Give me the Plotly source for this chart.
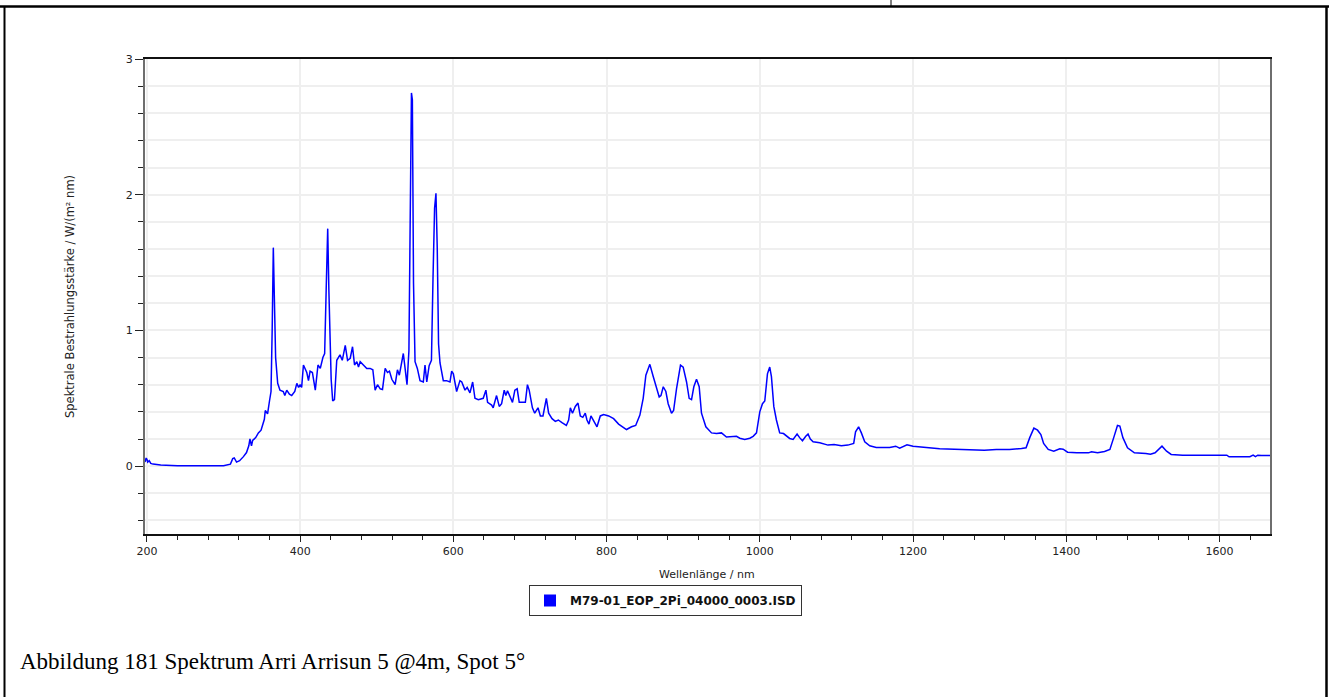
import plotly.graph_objects as go

# spectrum (wavelength in nm, irradiance in W/(m² nm))
wavelength_nm = [
    197.5, 199, 200, 201, 203, 205, 208, 212, 218, 225, 232, 240, 300, 306, 309, 312, 314, 317, 321, 326,
    330, 333, 334.5, 336.5, 338, 342, 345.5, 349, 351, 353.3, 354.5, 357.5, 360, 362, 363.5, 365, 366.5, 368,
    370.7, 373.7, 378, 380, 382.5, 386, 389, 393, 395.7, 398, 400, 402, 404.3, 406, 408.7, 410.9, 413, 416,
    419.8, 423.3, 426.3, 429.7, 432, 434, 436, 437.5, 439, 440.5, 442.5, 444.8, 447.8, 452, 455, 458.9, 461.9,
    465.4, 468.4, 471, 474, 476.2, 478.4, 482.7, 487, 491.4, 494.9, 497.9, 501, 504.5, 507.5, 511, 514, 516.6,
    519.7, 524, 527, 529.5, 532.5, 534.7, 537, 539.5, 542, 543.5, 545.3, 546.5, 548, 550, 553, 556.5, 560.8,
    563, 565.3, 568.4, 571.4, 573.5, 575.5, 577.3, 579, 580.7, 582.6, 586.9, 591, 595.6, 597.8, 600, 604.3,
    608.6, 611, 615.2, 618, 621.7, 625.2, 628.2, 632.6, 639, 642.5, 644.7, 650, 652, 656.4, 659.9, 663, 666.4,
    668.5, 670.7, 673.8, 677.2, 680.3, 683.3, 686, 690, 694, 696.7, 699, 703.2, 706.2, 710.5, 713.6, 717,
    718.8, 721.4, 724.4, 728.8, 733.1, 737, 741.8, 747.5, 750.5, 752.7, 755.5, 759.2, 762.7, 765.7, 769,
    772.2, 774.4, 777, 779.6, 783.1, 787.5, 791.8, 796.2, 802.7, 809.2, 815.7, 822.3, 826, 832.6, 838, 843.5,
    847.8, 851.3, 856.5, 860.9, 864.5, 868.7, 871, 874, 877.4, 880.4, 884.8, 887.5, 891.3, 896.5, 900, 904.4,
    907.8, 910.9, 913.9, 917.4, 920.9, 923.9, 929.6, 937, 943.5, 950, 956.5, 963, 969.6, 973.9, 980.4, 987,
    991.3, 995.7, 1000, 1003.5, 1006.5, 1010, 1013, 1015.2, 1018.3, 1021.7, 1026, 1031, 1039, 1043.5, 1048.7,
    1052, 1055.7, 1060, 1063, 1066, 1069.6, 1078.3, 1089, 1097, 1106.5, 1115, 1122.6, 1125, 1129, 1132.6,
    1137, 1143.5, 1152, 1169.6, 1177.4, 1182.6, 1192.2, 1200, 1209, 1217.4, 1234.8, 1265, 1269, 1287, 1293,
    1308.7, 1326, 1341.6, 1347.6, 1352.4, 1357.8, 1362.6, 1366.9, 1370.5, 1376.5, 1383.7, 1391.6, 1396,
    1401.8, 1413.9, 1429, 1433, 1441, 1450, 1457, 1462, 1466.9, 1470, 1474, 1480, 1489, 1504, 1510, 1516,
    1525, 1531, 1537, 1552, 1609.6, 1612.6, 1639.7, 1644, 1647, 1650, 1655, 1666,
]
irradiance = [
    0.03, 0.06, 0.05, 0.03, 0.04, 0.02, 0.015, 0.01, 0.008, 0.006, 0.005, 0.003, 0.003, 0.008, 0.015, 0.055,
    0.06, 0.03, 0.04, 0.07, 0.10, 0.15, 0.20, 0.15, 0.19, 0.21, 0.245, 0.265, 0.30, 0.345, 0.41, 0.385, 0.48,
    0.55, 1.0, 1.61, 1.2, 0.8, 0.61, 0.56, 0.55, 0.52, 0.56, 0.53, 0.52, 0.55, 0.61, 0.58, 0.60, 0.58, 0.745,
    0.72, 0.69, 0.63, 0.70, 0.69, 0.56, 0.745, 0.72, 0.80, 0.83, 1.3, 1.75, 1.3, 0.9, 0.64, 0.48, 0.49, 0.78,
    0.82, 0.78, 0.89, 0.78, 0.795, 0.88, 0.745, 0.77, 0.73, 0.77, 0.745, 0.72, 0.72, 0.71, 0.56, 0.60, 0.57,
    0.565, 0.72, 0.69, 0.70, 0.64, 0.60, 0.71, 0.67, 0.78, 0.83, 0.72, 0.60, 0.85, 1.8, 2.75, 2.7, 1.35, 0.77,
    0.72, 0.63, 0.62, 0.745, 0.62, 0.74, 0.78, 1.4, 1.9, 2.01, 1.6, 0.9, 0.76, 0.63, 0.63, 0.62, 0.70, 0.68,
    0.55, 0.63, 0.62, 0.56, 0.58, 0.54, 0.62, 0.50, 0.49, 0.50, 0.56, 0.47, 0.45, 0.43, 0.52, 0.44, 0.46,
    0.56, 0.52, 0.555, 0.51, 0.47, 0.56, 0.57, 0.47, 0.47, 0.47, 0.60, 0.56, 0.43, 0.39, 0.43, 0.37, 0.37,
    0.42, 0.50, 0.39, 0.35, 0.33, 0.34, 0.32, 0.30, 0.34, 0.43, 0.39, 0.44, 0.465, 0.37, 0.36, 0.39, 0.34,
    0.31, 0.37, 0.335, 0.29, 0.37, 0.38, 0.37, 0.35, 0.31, 0.28, 0.27, 0.29, 0.30, 0.376, 0.50, 0.67, 0.75,
    0.66, 0.59, 0.51, 0.52, 0.585, 0.55, 0.46, 0.39, 0.41, 0.57, 0.745, 0.73, 0.62, 0.50, 0.49, 0.585, 0.64,
    0.585, 0.39, 0.29, 0.245, 0.24, 0.245, 0.215, 0.22, 0.22, 0.206, 0.196, 0.206, 0.22, 0.245, 0.40, 0.46,
    0.48, 0.68, 0.73, 0.66, 0.44, 0.34, 0.245, 0.24, 0.204, 0.197, 0.236, 0.21, 0.187, 0.22, 0.236, 0.20,
    0.18, 0.172, 0.155, 0.16, 0.15, 0.155, 0.167, 0.253, 0.29, 0.245, 0.18, 0.15, 0.138, 0.138, 0.147, 0.133,
    0.157, 0.147, 0.14, 0.138, 0.128, 0.123, 0.125, 0.118, 0.118, 0.123, 0.123, 0.13, 0.135, 0.21, 0.28,
    0.265, 0.233, 0.167, 0.123, 0.11, 0.128, 0.125, 0.103, 0.098, 0.098, 0.106, 0.098, 0.108, 0.123, 0.21,
    0.30, 0.295, 0.21, 0.135, 0.098, 0.093, 0.088, 0.098, 0.147, 0.11, 0.086, 0.081, 0.081, 0.069, 0.069,
    0.081, 0.07, 0.081, 0.078, 0.079,
]

series_name = "M79-01_EOP_2Pi_04000_0003.ISD"
x_title = "Wellenlänge / nm"
y_title = "Spektrale Bestrahlungsstärke / W/(m² nm)"
caption = "Abbildung 181 Spektrum Arri Arrisun 5 @4m, Spot 5°"

x_ticks = [200, 400, 600, 800, 1000, 1200, 1400, 1600]
y_ticks = [0, 1, 2, 3]

W, H = 1329, 697
L, R, T, B = 145, 59, 59, 163
PW, PH = W - L - R, H - T - B


def px(x):
    return (x - L) / PW


def py(y):
    return (H - B - y) / PH


TEXT = "#222222"
FONT = "DejaVu Sans"
GRID = "#efefef"

fig = go.Figure()
fig.add_trace(go.Scatter(x=wavelength_nm, y=irradiance, mode="lines",
                         line=dict(color="#0000ff", width=1.5), showlegend=False))
# legend swatch only
fig.add_trace(go.Scatter(x=[None], y=[None], mode="markers", name=series_name,
                         marker=dict(symbol="square", size=12, color="#0000ff")))

fig.update_layout(
    width=W, height=H,
    margin=dict(l=L, r=R, t=T, b=B, autoexpand=False),
    paper_bgcolor="white", plot_bgcolor="white",
    font=dict(family=FONT, size=11, color=TEXT),
    showlegend=True,
    legend=dict(x=px(529), y=py(585), xanchor="left", yanchor="top",
                bordercolor="#333333", borderwidth=1, bgcolor="white",
                font=dict(family=FONT, size=12, color="#111111", weight="bold"),
                itemwidth=30, tracegroupgap=0),
)

fig.update_xaxes(
    range=[197.5, 1666], tickvals=x_ticks, ticks="outside", ticklen=6, tickcolor="#222",
    showgrid=True, gridcolor=GRID, gridwidth=1.5, zeroline=False,
    showline=True, linecolor="#111111", linewidth=1.5, mirror=True,
    minor=dict(dtick=40, tick0=0, ticks="outside", ticklen=4, tickcolor="#222", showgrid=False),
    tickfont=dict(family=FONT, size=11, color=TEXT),
)
fig.update_yaxes(
    range=[-0.5, 3], tickvals=y_ticks, ticks="outside", ticklen=8, tickcolor="#222",
    showgrid=True, gridcolor=GRID, gridwidth=1.5, zeroline=False,
    showline=True, linecolor="#6e6e6e", linewidth=2, mirror=True,
    minor=dict(dtick=0.2, tick0=0, ticks="outside", ticklen=5, tickcolor="#222",
               showgrid=True, gridcolor=GRID, gridwidth=1.5),
    tickfont=dict(family=FONT, size=11, color=TEXT),
)

# axis titles and caption
fig.add_annotation(xref="paper", yref="paper", x=px(70), y=py(297), text=y_title,
                   textangle=-90, showarrow=False, xanchor="center", yanchor="middle",
                   font=dict(family=FONT, size=11.5, color=TEXT))
fig.add_annotation(xref="paper", yref="paper", x=px(707), y=py(574), text=x_title,
                   showarrow=False, xanchor="center", yanchor="middle",
                   font=dict(family=FONT, size=11, color=TEXT))
fig.add_annotation(xref="paper", yref="paper", x=px(18), y=py(661), text=caption,
                   showarrow=False, xanchor="left", yanchor="middle",
                   font=dict(family="Liberation Serif", size=23, color="#000000"))

# document table borders
fig.add_shape(type="line", xref="paper", yref="paper", x0=px(0), x1=px(W), y0=py(6.5), y1=py(6.5),
              line=dict(color="black", width=2.5))
fig.add_shape(type="line", xref="paper", yref="paper", x0=px(891), x1=px(891), y0=py(0), y1=py(6.5),
              line=dict(color="black", width=1))
fig.add_shape(type="line", xref="paper", yref="paper", x0=px(4.5), x1=px(4.5), y0=py(6.5), y1=py(H + 2),
              line=dict(color="black", width=2))
fig.add_shape(type="line", xref="paper", yref="paper", x0=px(1326.5), x1=px(1326.5), y0=py(6.5), y1=py(H + 2),
              line=dict(color="black", width=2.5))

# drop the browser's default body margin so the figure sits at the page origin
fig.write_html("out.html", config={"displayModeBar": False},
               post_script="document.body.style.margin='0';")
